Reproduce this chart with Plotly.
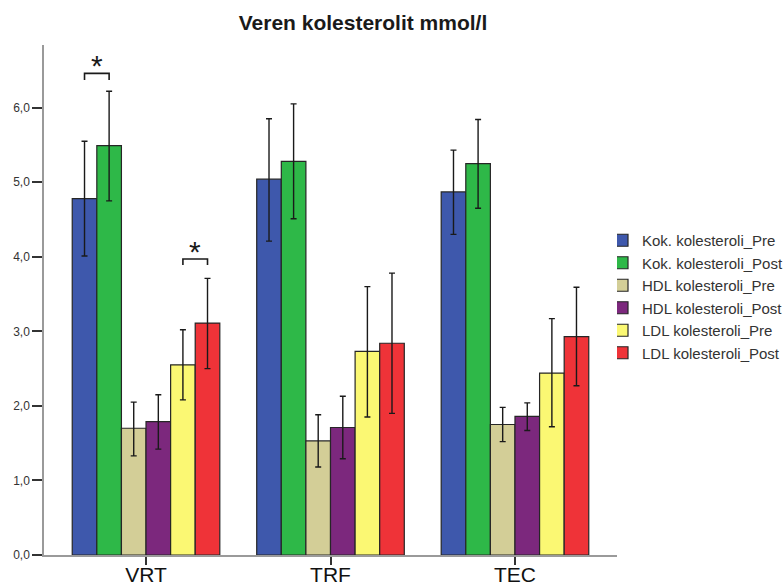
import plotly.graph_objects as go

# Groups on the x axis
categories = ["VRT", "TRF", "TEC"]

# Series names (legend order)
series_names = [
    "Kok. kolesteroli_Pre",
    "Kok. kolesteroli_Post",
    "HDL kolesteroli_Pre",
    "HDL kolesteroli_Post",
    "LDL kolesteroli_Pre",
    "LDL kolesteroli_Post",
]

# Means per group (VRT, TRF, TEC), mmol/l
kok_pre = [4.78, 5.04, 4.87]
kok_post = [5.49, 5.28, 5.25]
hdl_pre = [1.70, 1.53, 1.75]
hdl_post = [1.79, 1.71, 1.86]
ldl_pre = [2.55, 2.73, 2.44]
ldl_post = [3.11, 2.84, 2.93]

# Error bar limits (lower / upper) per group
kok_pre_lo, kok_pre_hi = [4.01, 4.21, 4.30], [5.55, 5.85, 5.43]
kok_post_lo, kok_post_hi = [4.75, 4.51, 4.65], [6.22, 6.05, 5.84]
hdl_pre_lo, hdl_pre_hi = [1.33, 1.18, 1.52], [2.05, 1.88, 1.98]
hdl_post_lo, hdl_post_hi = [1.42, 1.29, 1.67], [2.15, 2.13, 2.04]
ldl_pre_lo, ldl_pre_hi = [2.08, 1.85, 1.72], [3.02, 3.60, 3.17]
ldl_post_lo, ldl_post_hi = [2.50, 1.90, 2.27], [3.71, 3.78, 3.59]

y_tick_values = [0, 1, 2, 3, 4, 5, 6]

colors = ["#3E58AC", "#2EB848", "#D3CE97", "#7C287D", "#FBF873", "#EF3338"]

means = [kok_pre, kok_post, hdl_pre, hdl_post, ldl_pre, ldl_post]
lows = [kok_pre_lo, kok_post_lo, hdl_pre_lo, hdl_post_lo, ldl_pre_lo, ldl_post_lo]
highs = [kok_pre_hi, kok_post_hi, hdl_pre_hi, hdl_post_hi, ldl_pre_hi, ldl_post_hi]

FONT = "Liberation Sans, Arial, sans-serif"
x_pos = list(range(len(categories)))
n_series = len(series_names)
bargap = 0.2
bar_w = (1 - bargap) / n_series

fig = go.Figure()
for i, (name, col, m, lo, hi) in enumerate(zip(series_names, colors, means, lows, highs)):
    fig.add_trace(go.Bar(
        x=x_pos, y=m, name=name, legendgroup=f"g{i}",
        marker=dict(color=col, line=dict(color="#262626", width=1.2)),
        error_y=dict(
            type="data", symmetric=False,
            array=[h - v for h, v in zip(hi, m)],
            arrayminus=[v - l for v, l in zip(m, lo)],
            color="#1a1a1a", thickness=1.4, width=3,
        ),
    ))


def bar_center(group, series):
    return x_pos[group] + (series - (n_series - 1) / 2) * bar_w


# Significance brackets with asterisks
brackets = [
    (0, 0, 1, 6.46, 6.37, 6.56),   # VRT, total cholesterol pre vs post
    (0, 4, 5, 3.97, 3.89, 4.07),   # VRT, LDL pre vs post
]
for g, s1, s2, ytop, ylow, ystar in brackets:
    x1, x2 = bar_center(g, s1), bar_center(g, s2)
    fig.add_shape(type="path",
                  path=f"M {x1},{ylow} L {x1},{ytop} L {x2},{ytop} L {x2},{ylow}",
                  xref="x", yref="y", line=dict(color="#1a1a1a", width=1.6))
    fig.add_annotation(x=(x1 + x2) / 2, y=ystar, text="*", showarrow=False,
                       xref="x", yref="y", yanchor="middle",
                       font=dict(family=FONT, size=30, color="#1a1a1a"))

fig.update_layout(
    width=784, height=586,
    margin=dict(l=44, r=167, t=45, b=31),
    paper_bgcolor="white", plot_bgcolor="white",
    barmode="group", bargap=bargap, bargroupgap=0,
    separators=",.",
    font=dict(family=FONT, color="#222222"),
    title=dict(text="<b>Veren kolesterolit mmol/l</b>",
               x=363 / 784, xanchor="center", xref="container",
               y=1 - 23 / 586, yanchor="middle", yref="container",
               font=dict(family=FONT, size=21, color="#1a1a1a")),
    xaxis=dict(range=[-0.553, 2.553], tickvals=x_pos, ticktext=categories,
               showgrid=False, zeroline=False, showline=True, automargin=False,
               linecolor="#9a9a9a", linewidth=1.5,
               ticks="outside", ticklen=8, tickcolor="#333333", tickwidth=1.5,
               ticklabelstandoff=-8,
               tickfont=dict(family=FONT, size=21, color="#111111")),
    yaxis=dict(range=[0, 6.84], tickvals=y_tick_values, tickformat=".1f",
               showgrid=False, zeroline=False, showline=True, automargin=False,
               linecolor="#9a9a9a", linewidth=1.5,
               ticks="outside", ticklen=10, tickcolor="#333333", tickwidth=1.5,
               tickfont=dict(family=FONT, size=12, color="#333333")),
    legend=dict(x=617 / 784, xref="container", xanchor="left",
                y=1 - 224 / 586, yref="container", yanchor="top",
                indentation=-15,
                bgcolor="rgba(0,0,0,0)", borderwidth=0,
                font=dict(family=FONT, size=15, color="#333333"),
                traceorder="normal", itemwidth=30, tracegroupgap=5),
    showlegend=True,
)

fig.write_html("out.html")
